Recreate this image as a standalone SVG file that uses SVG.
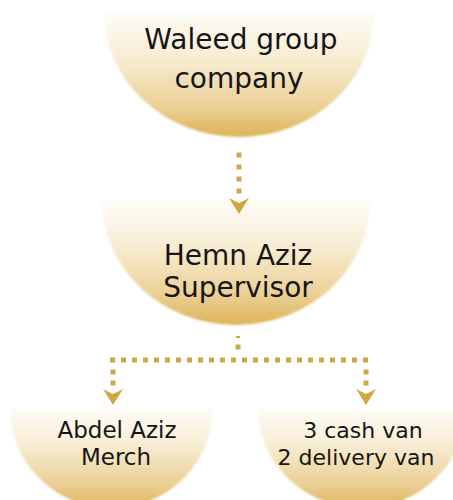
<svg xmlns="http://www.w3.org/2000/svg" width="453" height="500" viewBox="0 0 453 500">
  <defs>
    <linearGradient id="gold" x1="0" y1="0" x2="0" y2="1">
      <stop offset="0" stop-color="#fefcf7"/>
      <stop offset="0.35" stop-color="#f8eed6"/>
      <stop offset="0.75" stop-color="#ebd096"/>
      <stop offset="1" stop-color="#ddb35a"/>
    </linearGradient>
    <filter id="soft" x="-5%" y="-5%" width="110%" height="110%">
      <feGaussianBlur stdDeviation="1.2"/>
    </filter>
    <path id="arrow" d="M -10 0 L 0 5 L 10 0 L 0 16 Z"/>
  </defs>
  <style>
    .node { fill: url(#gold); filter: url(#soft); }
    .label { font-family: "DejaVu Sans", sans-serif; fill: #161616; text-anchor: middle; }
    .dots { stroke: #cda84a; stroke-width: 5; fill: none; }
    .head { fill: #d1a740; }
  </style>
  <rect width="453" height="500" fill="#ffffff"/>

  <g id="node-waleed">
    <path class="node" d="M 104 12 A 135 125 0 0 0 374 12 Z"/>
    <text class="label" x="241" y="49" font-size="28">Waleed group</text>
    <text class="label" x="239" y="88" font-size="28">company</text>
  </g>

  <g id="node-hemn">
    <path class="node" d="M 102 200 A 134 125 0 0 0 370 200 Z"/>
    <text class="label" x="238" y="265" font-size="28">Hemn Aziz</text>
    <text class="label" x="238" y="297" font-size="28">Supervisor</text>
  </g>

  <g id="node-abdel">
    <path class="node" d="M 10 408 A 101.5 100 0 0 0 213 408 Z"/>
    <text class="label" x="117" y="438" font-size="23">Abdel Aziz</text>
    <text class="label" x="116" y="465" font-size="23">Merch</text>
  </g>

  <g id="node-vans">
    <path class="node" d="M 258 408 A 104 100 0 0 0 466 408 Z"/>
    <text class="label" x="363" y="438" font-size="22">3 cash van</text>
    <text class="label" x="356" y="465" font-size="22">2 delivery van</text>
  </g>

  <g id="connectors">
    <line class="dots" x1="239" y1="152.5" x2="239" y2="195" stroke-dasharray="5 7"/>
    <use href="#arrow" class="head" x="239" y="198"/>
    <rect x="236" y="336" width="4" height="2" fill="#cda84a"/>
    <rect x="235.5" y="344.5" width="5" height="5" fill="#cda84a"/>
    <line class="dots" x1="110" y1="360" x2="374" y2="360" stroke-dasharray="5 6"/>
    <line class="dots" x1="113" y1="369.5" x2="113" y2="386" stroke-dasharray="5 6"/>
    <line class="dots" x1="366" y1="369.5" x2="366" y2="386" stroke-dasharray="5 6"/>
    <use href="#arrow" class="head" x="113" y="389"/>
    <use href="#arrow" class="head" x="366" y="389"/>
  </g>
</svg>
